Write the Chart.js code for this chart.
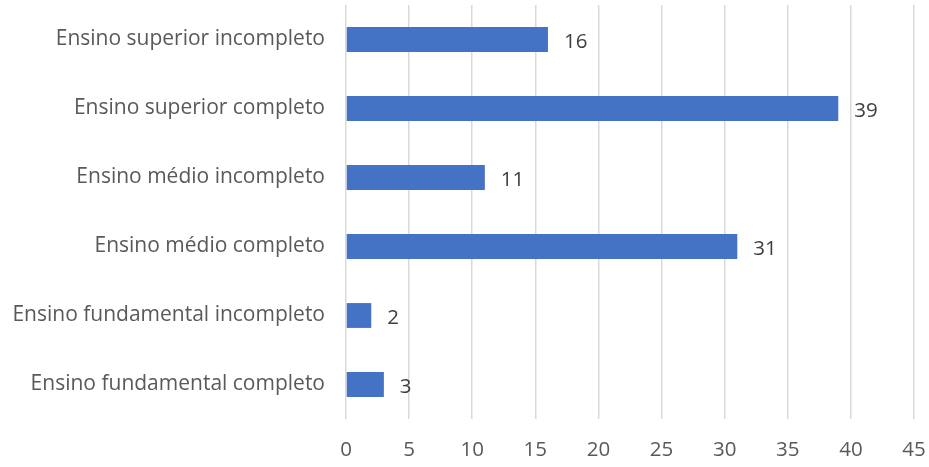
<!DOCTYPE html>
<html><head><meta charset="utf-8">
<script src="https://cdn.jsdelivr.net/npm/chart.js@4"></script>
<style>html,body{margin:0;padding:0;background:#fff;}#wrap{width:929px;height:467px;}</style>
</head><body><div id="wrap"><canvas id="c" width="929" height="467"></canvas></div>
<script>
const categories = ["Ensino superior incompleto","Ensino superior completo","Ensino médio incompleto","Ensino médio completo","Ensino fundamental incompleto","Ensino fundamental completo"];
const values = [16, 39, 11, 31, 2, 3];
const xMin = 0, xMax = 45, xStep = 5;

const FONT = "'Open Sans', sans-serif";
const FS = 20.5;
const FSY = 21;
const labelPlugin = {
  id: 'labels',
  afterDatasetsDraw(chart) {
    const ctx = chart.ctx;
    const meta = chart.getDatasetMeta(0);
    ctx.save();
    ctx.font = FS + "px " + FONT;
    ctx.fillStyle = '#404040';
    ctx.textAlign = 'left';
    ctx.textBaseline = 'middle';
    meta.data.forEach((bar, i) => {
      ctx.fillText(String(values[i]), bar.x + 16, bar.y + 3);
    });
    ctx.restore();
  }
};

new Chart(document.getElementById('c'), {
  type: 'bar',
  data: { labels: categories, datasets: [{ data: values, backgroundColor: '#4472C4', barPercentage: 0.36, categoryPercentage: 1.0 }] },
  options: {
    indexAxis: 'y', responsive: false, animation: false,
    layout: { padding: { top: 5, right: 15, left: 0, bottom: 0 } },
    plugins: { legend: { display: false }, tooltip: { enabled: false } },
    scales: {
      x: {
        min: xMin, max: xMax,
        ticks: { stepSize: xStep, color: '#595959', font: { family: FONT, size: FS }, padding: 19 },
        grid: { color: '#D9D9D9', lineWidth: 1.5, drawTicks: false },
        border: { display: false },
        afterFit(s) { s.height = 48; s.paddingLeft = 0; s.paddingRight = 0; }
      },
      y: {
        ticks: { color: '#595959', font: { family: FONT, size: FSY }, padding: 21 },
        grid: { display: false, drawTicks: false },
        border: { display: false },
        afterFit(s) { s.width = 346; s.paddingTop = 0; s.paddingBottom = 0; }
      }
    }
  },
  plugins: [labelPlugin]
});
</script></body></html>
